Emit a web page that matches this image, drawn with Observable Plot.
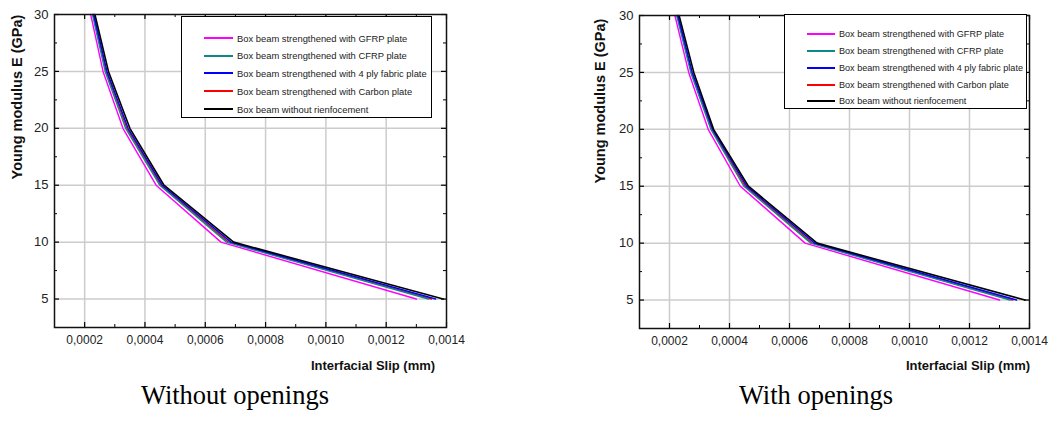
<!DOCTYPE html>
<html><head><meta charset="utf-8">
<script src="https://cdn.jsdelivr.net/npm/d3@7"></script>
<script src="https://cdn.jsdelivr.net/npm/@observablehq/plot@0.6"></script>
<style>
body{margin:0;background:#fff;width:1053px;height:423px;position:relative;overflow:hidden;font-family:"Liberation Sans",Arial,sans-serif}
.abs{position:absolute}
.ylab{font-weight:bold;font-size:14.5px;white-space:nowrap;transform:translate(-50%,-50%) rotate(-90deg);color:#111}
.xlab{font-weight:bold;font-size:13px;white-space:nowrap;transform:translate(-50%,-50%);color:#111}
.cap{font-family:"Liberation Serif","Times New Roman",serif;font-size:26.5px;white-space:nowrap;transform:translate(-50%,-50%);color:#000}
.legend{border:1px solid #000;background:#fff;box-sizing:border-box}
.row{position:absolute;display:flex;align-items:center;white-space:nowrap;color:#222}
.sw{display:inline-block;height:2px}
</style></head><body>
<script>
// ---- data ----
const youngModulus = [30, 25, 20, 15, 10, 5];
const seriesNames = [
  "Box beam strengthened with GFRP plate",
  "Box beam strengthened with CFRP plate",
  "Box beam strengthened with 4 ply fabric plate",
  "Box beam strengthened with Carbon plate",
  "Box beam without rienfocement"
];
const seriesColors = ["#ff00ff", "#0a8a8a", "#0000ff", "#ff0000", "#000000"];
const drawOrder = [3, 0, 1, 2, 4];
const xTicks = [0.0002, 0.0004, 0.0006, 0.0008, 0.0010, 0.0012, 0.0014];
const xMinorTicks = [0.0001, 0.0003, 0.0005, 0.0007, 0.0009, 0.0011, 0.0013];
const yTicks = [5, 10, 15, 20, 25, 30];
const yMinorTicks = [2.5, 7.5, 12.5, 17.5, 22.5, 27.5];

// Without openings: interfacial slip (mm) per series at E = 30..5 GPa
const slipWithoutGFRP    = [0.000220, 0.000261, 0.000327, 0.000437, 0.000652, 0.001300];
const slipWithoutCFRP    = [0.000226, 0.000268, 0.000336, 0.000449, 0.000671, 0.001340];
const slipWithout4ply    = [0.000230, 0.000274, 0.000344, 0.000457, 0.000685, 0.001364];
const slipWithoutCarbon  = [0.000228, 0.000271, 0.000340, 0.000453, 0.000677, 0.001350];
const slipWithoutNone    = [0.000234, 0.000279, 0.000350, 0.000463, 0.000694, 0.001389];

// With openings
const slipWithGFRP    = [0.000218, 0.000264, 0.000329, 0.000436, 0.000652, 0.001300];
const slipWithCFRP    = [0.000224, 0.000271, 0.000338, 0.000448, 0.000671, 0.001335];
const slipWith4ply    = [0.000228, 0.000276, 0.000344, 0.000457, 0.000684, 0.001357];
const slipWithCarbon  = [0.000226, 0.000273, 0.000341, 0.000452, 0.000676, 0.001344];
const slipWithNone    = [0.000232, 0.000281, 0.000347, 0.000463, 0.000692, 0.001385];

const chartLayouts = [
  {left: 0, top: 0, width: 470, height: 375, mt: 14, mb: 48, ml: 54, mr: 24,
   series: [slipWithoutGFRP, slipWithoutCFRP, slipWithout4ply, slipWithoutCarbon, slipWithoutNone],
   ylab: [17, 97], xlab: [373, 365], cap: [235, 395], caption: "Without openings",
   legend: {x: 181, y: 16, w: 251, h: 102, rows: [38, 55.5, 73, 91, 109], swx: 204, sww: 29, tx: 237, fs: 9.4}},
  {left: 585, top: 0, width: 468, height: 375, mt: 15, mb: 47, ml: 54, mr: 24,
   series: [slipWithGFRP, slipWithCFRP, slipWith4ply, slipWithCarbon, slipWithNone],
   ylab: [600, 101], xlab: [968, 365], cap: [816, 395], caption: "With openings",
   legend: {x: 784, y: 14, w: 243, h: 95, rows: [34, 51, 68, 84.5, 101], swx: 807, sww: 28, tx: 839, fs: 9.1}}
];

const fmt = d => d3.format(".4f")(d).replace(".", ",");

for (const c of chartLayouts) {
  const rows = [];
  for (const si of drawOrder) {
    c.series[si].forEach((x, i) => rows.push({series: seriesNames[si], x, y: youngModulus[i], order: si}));
  }
  const innerH = c.height - c.mt - c.mb;
  const innerW = c.width - c.ml - c.mr;
  const tickLen = 5, minorLen = 3;
  const plot = Plot.plot({
    width: c.width, height: c.height,
    marginTop: c.mt, marginBottom: c.mb, marginLeft: c.ml, marginRight: c.mr,
    style: {fontFamily: "Liberation Sans, Arial, sans-serif", background: "white", overflow: "visible"},
    x: {domain: [0.0001, 0.0014]},
    y: {domain: [2.5, 30]},
    color: {domain: seriesNames, range: seriesColors},
    marks: [
      Plot.ruleX(xTicks.slice(0, -1), {stroke: "#cccccc", strokeWidth: 1.5}),
      Plot.ruleY(yTicks.slice(0, -1), {stroke: "#cccccc", strokeWidth: 1.5}),
      ...drawOrder.map(si =>
        Plot.line(rows.filter(r => r.order === si), {x: "x", y: "y", stroke: "series", strokeWidth: si === 4 ? 1.6 : 1.4})),
      // inward ticks: bottom, top, left, right
      Plot.tickX(xTicks, {x: d => d, insetTop: innerH - tickLen, stroke: "#000", strokeWidth: 1.2}),
      Plot.tickX(xMinorTicks, {x: d => d, insetTop: innerH - minorLen, stroke: "#000", strokeWidth: 1}),
      Plot.tickX(xTicks, {x: d => d, insetBottom: innerH - tickLen, stroke: "#000", strokeWidth: 1.2}),
      Plot.tickX(xMinorTicks, {x: d => d, insetBottom: innerH - minorLen, stroke: "#000", strokeWidth: 1}),
      Plot.tickY(yTicks, {y: d => d, insetRight: innerW - tickLen, stroke: "#000", strokeWidth: 1.2}),
      Plot.tickY(yMinorTicks, {y: d => d, insetRight: innerW - minorLen, stroke: "#000", strokeWidth: 1}),
      Plot.tickY(yTicks, {y: d => d, insetLeft: innerW - tickLen, stroke: "#000", strokeWidth: 1.2}),
      Plot.tickY(yMinorTicks, {y: d => d, insetLeft: innerW - minorLen, stroke: "#000", strokeWidth: 1}),
      Plot.axisX({ticks: xTicks, tickFormat: fmt, tickSize: 0, tickPadding: 8, fontSize: 12, label: null, color: "#222"}),
      Plot.axisY({ticks: yTicks, tickSize: 0, tickPadding: 6, fontSize: 13, label: null, color: "#222"}),
      Plot.frame({stroke: "#111", strokeWidth: 1.5})
    ]
  });
  plot.style.position = "absolute";
  plot.style.left = c.left + "px";
  plot.style.top = c.top + "px";
  document.body.appendChild(plot);

  const yl = document.createElement("div");
  yl.className = "abs ylab"; yl.textContent = "Young modulus E (GPa)";
  yl.style.left = c.ylab[0] + "px"; yl.style.top = c.ylab[1] + "px";
  document.body.appendChild(yl);

  const xl = document.createElement("div");
  xl.className = "abs xlab"; xl.textContent = "Interfacial Slip (mm)";
  xl.style.left = c.xlab[0] + "px"; xl.style.top = c.xlab[1] + "px";
  document.body.appendChild(xl);

  const cap = document.createElement("div");
  cap.className = "abs cap"; cap.textContent = c.caption;
  cap.style.left = c.cap[0] + "px"; cap.style.top = c.cap[1] + "px";
  document.body.appendChild(cap);

  const L = c.legend;
  const box = document.createElement("div");
  box.className = "abs legend";
  Object.assign(box.style, {left: L.x + "px", top: L.y + "px", width: L.w + "px", height: L.h + "px"});
  document.body.appendChild(box);
  seriesNames.forEach((name, i) => {
    const r = document.createElement("div");
    r.className = "row";
    Object.assign(r.style, {left: L.swx + "px", top: (L.rows[i] - 7) + "px", height: "14px", fontSize: L.fs + "px"});
    const sw = document.createElement("span");
    sw.className = "sw";
    Object.assign(sw.style, {width: L.sww + "px", background: seriesColors[i], marginRight: (L.tx - L.swx - L.sww) + "px"});
    const t = document.createElement("span");
    t.textContent = name;
    r.appendChild(sw); r.appendChild(t);
    document.body.appendChild(r);
  });
}
</script>
</body></html>
